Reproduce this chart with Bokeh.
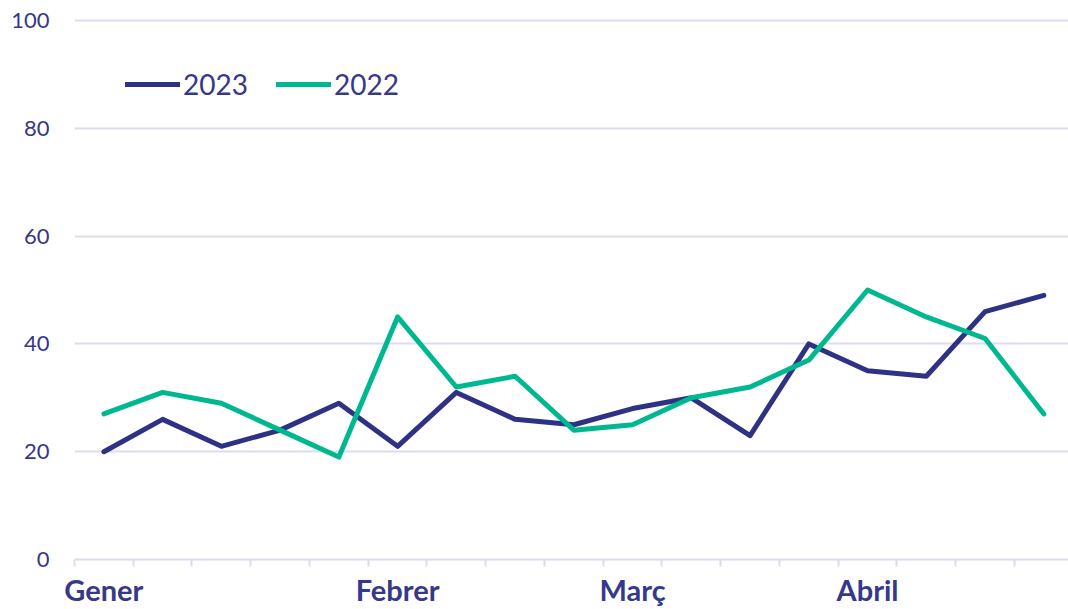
from bokeh.plotting import figure
from bokeh.models import FixedTicker, Legend, LegendItem, Range1d
from bokeh.embed import file_html
from bokeh.resources import INLINE

# ---- data ----
weeks = list(range(17))
month_labels = {0: "Gener", 5: "Febrer", 9: "Març", 13: "Abril"}
series_2023 = [20, 26, 21, 24, 29, 21, 31, 26, 25, 28, 30, 23, 40, 35, 34, 46, 49]
series_2022 = [27, 31, 29, 24, 19, 45, 32, 34, 24, 25, 30, 32, 37, 50, 45, 41, 27]
y_ticks = [0, 20, 40, 60, 80, 100]

NAVY = "#2e3184"
GREEN = "#00b890"
TEXT = "#36388a"
GRID = "#dcdcf3"
FONT = "Lato"

x = [w + 0.5 for w in weeks]

p = figure(width=1068, height=609, output_backend="svg", toolbar_location=None,
           x_range=Range1d(0, 16.92), y_range=Range1d(0, 100.37),
           min_border_left=74, min_border_right=0, min_border_top=18, min_border_bottom=50)
p.outline_line_color = None
p.background_fill_color = "white"
p.border_fill_color = "white"

r23 = p.line(x, series_2023, line_color=NAVY, line_width=5, line_join="round", line_cap="round")
r22 = p.line(x, series_2022, line_color=GREEN, line_width=5, line_join="round", line_cap="round")

# y axis
p.yaxis.ticker = FixedTicker(ticks=y_ticks)
p.yaxis.axis_line_color = None
p.yaxis.major_tick_line_color = None
p.yaxis.minor_tick_line_color = None
p.yaxis.major_tick_out = 0
p.yaxis.major_tick_in = 0
p.yaxis.major_label_standoff = 25
p.yaxis.major_label_text_font = FONT
p.yaxis.major_label_text_font_size = "22px"
p.yaxis.major_label_text_color = TEXT

p.ygrid.ticker = FixedTicker(ticks=y_ticks)
p.ygrid.grid_line_color = GRID
p.ygrid.grid_line_width = 2
p.xgrid.grid_line_color = None

# x axis: ticks at week boundaries, month labels at week centers
label_pos = [k + 0.5 for k in month_labels]
p.xaxis.ticker = FixedTicker(ticks=label_pos, minor_ticks=list(range(18)))
p.xaxis.major_label_overrides = {k + 0.5: v for k, v in month_labels.items()}
p.xaxis.axis_line_color = GRID
p.xaxis.axis_line_width = 2
p.xaxis.major_tick_line_color = None
p.xaxis.major_tick_out = 7
p.xaxis.major_tick_in = 0
p.xaxis.minor_tick_line_color = GRID
p.xaxis.minor_tick_line_width = 2
p.xaxis.minor_tick_out = 7
p.xaxis.minor_tick_in = 0
p.xaxis.major_label_standoff = 5
p.xaxis.major_label_text_font = FONT
p.xaxis.major_label_text_font_style = "bold"
p.xaxis.major_label_text_font_size = "29px"
p.xaxis.major_label_text_color = TEXT

legend = Legend(items=[LegendItem(label="2023", renderers=[r23]),
                       LegendItem(label="2022", renderers=[r22])],
                orientation="horizontal", location=(51, 458))
legend.padding = 0
legend.margin = 0
legend.spacing = 28
legend.glyph_width = 55
legend.label_standoff = 3
legend.border_line_color = None
legend.background_fill_alpha = 0
legend.label_text_font = FONT
legend.label_text_font_size = "28px"
legend.label_text_color = TEXT
p.add_layout(legend)

open("out.html", "w").write(file_html(p, INLINE))
